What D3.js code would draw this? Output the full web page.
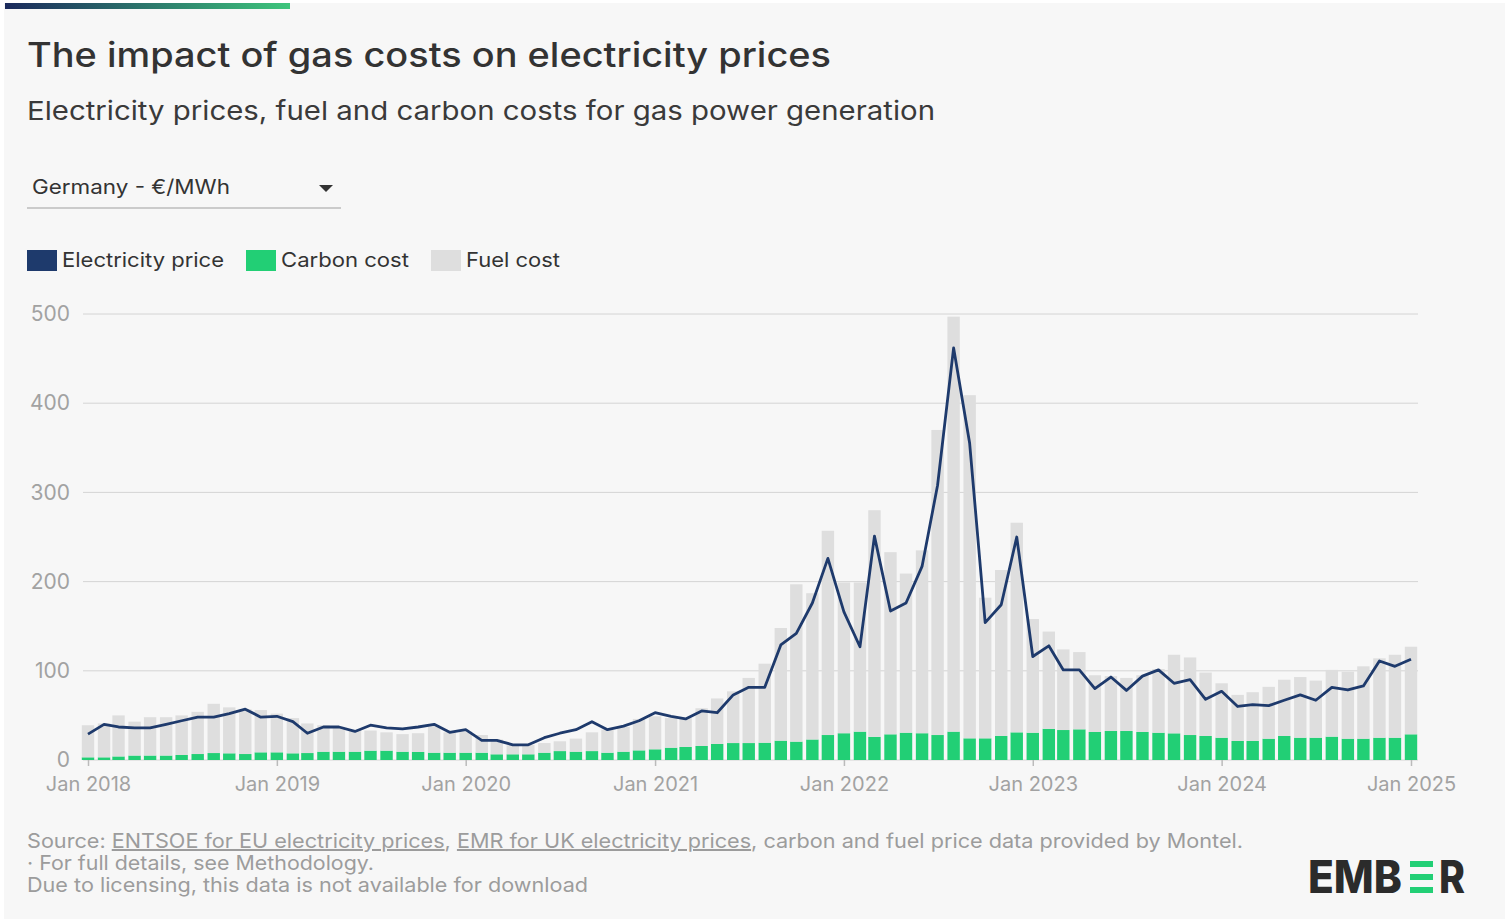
<!DOCTYPE html>
<html><head><meta charset="utf-8">
<script src="https://cdn.jsdelivr.net/npm/d3@7"></script>
<style>
body{margin:0;background:#fff;}
svg{display:block;font-family:Inter,'Noto Sans',sans-serif;}
</style>
</head><body>
<svg id="chart" width="1509" height="922"></svg>
<script>
// ---------- DATA ----------
const firstMonth = new Date(2018, 0, 1);
const lastMonth = new Date(2025, 0, 1);

const electricityPrice = [
  29, 40, 37, 36, 36, 40, 44, 48, 48, 52, 57, 48,
  49, 43, 30, 37, 37, 32, 39, 36, 35, 37, 40, 31,
  34, 22, 22, 17, 17, 25, 30, 34, 43, 34, 38, 44,
  53, 49, 46, 55, 53, 73, 81.5, 81.5, 129, 142, 176, 226,
  166, 127, 251, 167, 176, 217, 308, 462, 355, 154, 174, 250,
  116, 128, 101, 101, 80, 93, 78, 94, 101, 86, 90, 68,
  77, 60, 62, 61, 67, 73, 67, 81.5, 78.5, 83, 111, 105,
  113
];
const carbonCost = [
  3, 3, 4, 5, 5, 5, 5.6, 6.7, 7.8, 7.5, 6.7, 8.6,
  8.6, 7.5, 7.8, 9.3, 9.3, 9.3, 10.5, 10.5, 9.3, 9, 8.2, 8.2,
  8.2, 8.2, 6.4, 6.4, 6.4, 8.2, 10, 9.3, 10, 8.2, 9.3, 10.8,
  12, 13.8, 14.6, 15.7, 18, 19, 19, 19.4, 21.7, 20.6, 23, 28,
  30, 31.8, 26, 28.8, 30.6, 30, 28, 31.8, 24.3, 24.3, 27, 31,
  30.6, 35, 33.6, 34.4, 31.4, 32.5, 32.5, 31.4, 30.6, 29.9, 28, 26.9,
  25, 21.3, 21.3, 23.9, 26.9, 25, 25, 26.2, 23.9, 23.9, 25, 25,
  28.8
];
const fuelCost = [
  36, 38, 46, 38, 43, 43, 44.4, 47.3, 55.2, 51.5, 50.3, 47.4,
  43.4, 39.5, 33.2, 29.7, 26.7, 23.7, 22.5, 20.5, 19.7, 21, 29.8, 22.8,
  23.8, 19.8, 16.6, 10.1, 10.6, 10.8, 11, 14.7, 21, 25.8, 27.7, 35.2,
  37, 33.2, 32.4, 42.3, 51, 58, 73, 88.6, 126.3, 176.4, 164, 229,
  169, 167.2, 254, 204.2, 178.4, 205, 342, 465.2, 384.7, 157.7, 186, 235,
  127.4, 109, 90.4, 86.6, 63.6, 61.5, 59.5, 63.6, 71.4, 88.1, 87, 71.1,
  61, 51.7, 54.7, 58.1, 63.1, 68, 64, 74.8, 75.1, 81.1, 89, 93,
  98.2
];
const yTicks = [0, 100, 200, 300, 400, 500];
const xTickLabels = ["Jan 2018","Jan 2019","Jan 2020","Jan 2021","Jan 2022","Jan 2023","Jan 2024","Jan 2025"];
const legendLabels = ["Electricity price", "Carbon cost", "Fuel cost"];

// ---------- STYLE ----------
const C = {
  bg: "#f7f7f7", text: "#333", muted: "#a2a2a2", grid: "#d4d4d4",
  navy: "#1e3a6c", green: "#22cf75", gray: "#dedede"
};

const svg = d3.select("#chart");
svg.append("rect").attr("x", 4).attr("y", 3).attr("width", 1501).attr("height", 916).attr("fill", C.bg);

const grad = svg.append("defs").append("linearGradient").attr("id", "topgrad");
grad.append("stop").attr("offset", "0%").attr("stop-color", "#1b2a5c");
grad.append("stop").attr("offset", "100%").attr("stop-color", "#3ec57c");
svg.append("rect").attr("x", 5).attr("y", 3).attr("width", 285).attr("height", 6).attr("fill", "url(#topgrad)");

function fit(sel, w) { sel.attr("textLength", w).attr("lengthAdjust", "spacingAndGlyphs"); return sel; }

fit(svg.append("text").attr("x", 27).attr("y", 67).attr("font-size", 34).attr("font-weight", 500)
  .attr("fill", C.text).text("The impact of gas costs on electricity prices"), 804);
fit(svg.append("text").attr("x", 27).attr("y", 120).attr("font-size", 26).attr("fill", "#3a3a3a")
  .text("Electricity prices, fuel and carbon costs for gas power generation"), 908);

// dropdown
fit(svg.append("text").attr("x", 32).attr("y", 194).attr("font-size", 20).attr("fill", C.text)
  .text("Germany - €/MWh"), 198);
svg.append("path").attr("d", "M319,185 L333,185 L326,192 Z").attr("fill", C.text);
svg.append("line").attr("x1", 27).attr("x2", 341).attr("y1", 208).attr("y2", 208)
  .attr("stroke", "#bdbdbd").attr("stroke-width", 1.5);

// legend
const legendColors = [C.navy, C.green, C.gray];
const legendX = [27, 246, 431];
const legendW = [162, 128, 94];
legendLabels.forEach((l, i) => {
  svg.append("rect").attr("x", legendX[i]).attr("y", 250).attr("width", 30).attr("height", 21).attr("fill", legendColors[i]);
  fit(svg.append("text").attr("x", legendX[i] + 35).attr("y", 267).attr("font-size", 20).attr("fill", C.text).text(l), legendW[i]);
});

// ---------- SCALES ----------
const months = d3.timeMonth.range(firstMonth, d3.timeMonth.offset(lastMonth, 1));
const rows = months.map((d, i) => ({ date: d, carbon: carbonCost[i], fuel: fuelCost[i], price: electricityPrice[i] }));

const x = d3.scaleTime().domain([firstMonth, lastMonth]).range([88, 1411]);
const y = d3.scaleLinear().domain([0, 500]).range([760, 314]);
const barW = 12.4;

// grid
svg.append("g").selectAll("line").data(yTicks).join("line")
  .attr("x1", 83).attr("x2", 1418).attr("y1", d => y(d)).attr("y2", d => y(d))
  .attr("stroke", C.grid).attr("stroke-width", 1);

// y labels
const yAxis = d3.axisLeft(y).tickValues(yTicks).tickSize(0).tickPadding(0);
const gy = svg.append("g").attr("transform", "translate(70,0)").call(yAxis);
gy.select(".domain").remove();
gy.selectAll("text").attr("font-size", 21).attr("fill", C.muted).attr("font-family", "Inter,'Noto Sans',sans-serif");

// stacked bars
const stack = d3.stack().keys(["carbon", "fuel"])(rows);
const barColors = { carbon: C.green, fuel: C.gray };
svg.append("g").selectAll("g").data(stack).join("g")
  .attr("fill", s => barColors[s.key])
  .selectAll("rect").data(s => s).join("rect")
  .attr("x", d => x(d.data.date) - barW / 2)
  .attr("width", barW)
  .attr("y", d => y(d[1]))
  .attr("height", d => y(d[0]) - y(d[1]));

// x axis
const yearTicks = xTickLabels.map((_, i) => new Date(2018 + i, 0, 1));
const xAxis = d3.axisBottom(x).tickValues(yearTicks).tickFormat((d, i) => xTickLabels[i]).tickSize(6).tickPadding(11);
const gx = svg.append("g").attr("transform", "translate(0,760)").call(xAxis);
gx.select(".domain").remove();
gx.selectAll(".tick line").attr("stroke", "#bbb").attr("stroke-width", 1.5);
gx.selectAll("text").attr("font-size", 20).attr("fill", C.muted).attr("font-family", "Inter,'Noto Sans',sans-serif");

// line
const line = d3.line().x(d => x(d.date)).y(d => y(d.price));
svg.append("path").datum(rows).attr("d", line).attr("fill", "none")
  .attr("stroke", C.navy).attr("stroke-width", 2.8).attr("stroke-linejoin", "round");

// ---------- FOOTER ----------
const f1 = svg.append("text").attr("x", 27).attr("y", 848).attr("font-size", 20).attr("fill", "#9c9c9c");
f1.append("tspan").text("Source: ");
f1.append("tspan").attr("text-decoration", "underline").text("ENTSOE for EU electricity prices");
f1.append("tspan").text(", ");
f1.append("tspan").attr("text-decoration", "underline").text("EMR for UK electricity prices");
f1.append("tspan").text(", carbon and fuel price data provided by Montel.");
fit(f1, 1216);
fit(svg.append("text").attr("x", 27).attr("y", 870).attr("font-size", 20).attr("fill", "#9c9c9c")
  .text("· For full details, see Methodology."), 347);
fit(svg.append("text").attr("x", 27).attr("y", 892).attr("font-size", 20).attr("fill", "#9c9c9c")
  .text("Due to licensing, this data is not available for download"), 561);

// logo
fit(svg.append("text").attr("x", 1308).attr("y", 893).attr("font-size", 45).attr("font-weight", 800)
  .attr("fill", "#2b2b2b").text("EMB"), 94);
[861, 874, 887].forEach(yy => svg.append("rect").attr("x", 1410).attr("y", yy).attr("width", 23).attr("height", 6).attr("fill", C.green));
fit(svg.append("text").attr("x", 1439).attr("y", 893).attr("font-size", 45).attr("font-weight", 800)
  .attr("fill", "#2b2b2b").text("R"), 26);
</script>
</body></html>
